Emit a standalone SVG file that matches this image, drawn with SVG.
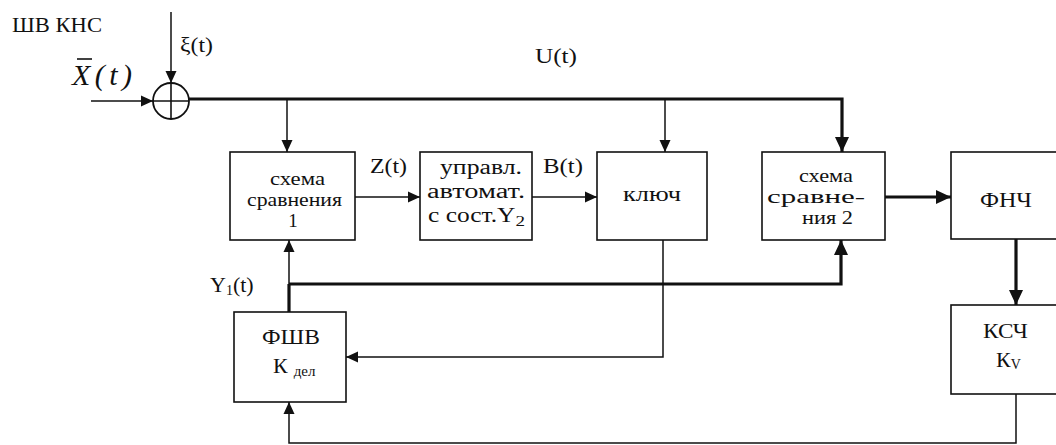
<svg xmlns="http://www.w3.org/2000/svg" width="1056" height="445" viewBox="0 0 1056 445">
<style>
text{font-family:"Liberation Serif","DejaVu Serif","Times New Roman",serif;fill:#111;font-size:22px}
.m{font-size:19px}
.c{font-size:20px}
.b{fill:#fff;stroke:#111;stroke-width:1.6}
.thin{fill:none;stroke:#111;stroke-width:1.5}
.thick{fill:none;stroke:#111;stroke-width:3.2}
</style>
<defs>
<marker id="a" markerUnits="userSpaceOnUse" markerWidth="12" markerHeight="12" refX="12" refY="6" orient="auto"><path d="M0,0.5 L12,6 L0,11.5 z" fill="#111"/></marker>
<marker id="A" markerUnits="userSpaceOnUse" markerWidth="15" markerHeight="14" refX="15" refY="7" orient="auto"><path d="M0,0 L15,7 L0,14 z" fill="#111"/></marker>
</defs>
<rect width="1056" height="445" fill="#fff"/>
<text x="12" y="32" textLength="90" lengthAdjust="spacingAndGlyphs">ШВ КНС</text>
<g id="input">
<text x="72" y="85" style="font-size:30px;font-style:italic" textLength="60" lengthAdjust="spacing">X(t)</text>
<line x1="77" y1="59" x2="92" y2="59" stroke="#111" stroke-width="1.6"/>
<text x="180" y="52" textLength="33" lengthAdjust="spacingAndGlyphs">ξ(t)</text>
</g>
<g id="sum">
<circle cx="171" cy="101" r="18" fill="#fff" stroke="#111" stroke-width="1.8"/>
<line x1="153" y1="101" x2="189" y2="101" stroke="#111" stroke-width="1.6"/>
<line x1="171" y1="83" x2="171" y2="119" stroke="#111" stroke-width="1.6"/>
</g>
<text x="535" y="63" textLength="42" lengthAdjust="spacingAndGlyphs">U(t)</text>
<g id="cmp1">
<rect class="b" x="230" y="152" width="125" height="88"/>
<text class="m" x="270" y="185" textLength="55" lengthAdjust="spacingAndGlyphs">схема</text>
<text class="m" x="247" y="206" textLength="95" lengthAdjust="spacingAndGlyphs">сравнения</text>
<text class="m" x="293" y="227" text-anchor="middle">1</text>
</g>
<g id="ctrl">
<rect class="b" x="420" y="152" width="112" height="88"/>
<text class="c" x="440" y="174" textLength="82" lengthAdjust="spacingAndGlyphs">управл.</text>
<text class="c" x="427" y="198" textLength="98" lengthAdjust="spacingAndGlyphs">автомат.</text>
<text class="c" x="428" y="222" textLength="97" lengthAdjust="spacingAndGlyphs">с сост.Y<tspan style="font-size:15px" dy="4">2</tspan></text>
</g>
<g id="key">
<rect class="b" x="597" y="152" width="110" height="88"/>
<text x="623" y="201" textLength="58" lengthAdjust="spacingAndGlyphs">ключ</text>
</g>
<g id="cmp2">
<rect class="b" x="762" y="152" width="123" height="88"/>
<text class="m" x="799" y="182" textLength="54" lengthAdjust="spacingAndGlyphs">схема</text>
<text class="m" x="767" y="203" textLength="98" lengthAdjust="spacingAndGlyphs">сравне-</text>
<text class="m" x="802" y="224" textLength="51" lengthAdjust="spacingAndGlyphs">ния 2</text>
</g>
<g id="lpf">
<rect class="b" x="951" y="152" width="110" height="87"/>
<text x="980" y="207" textLength="52" lengthAdjust="spacingAndGlyphs">ФНЧ</text>
</g>
<g id="ksch">
<rect class="b" x="951" y="305" width="110" height="89"/>
<text x="983" y="338" textLength="45" lengthAdjust="spacingAndGlyphs">КСЧ</text>
<text x="996" y="367">К<tspan style="font-size:14px" dy="2">V</tspan></text>
</g>
<g id="fshv">
<rect class="b" x="234" y="312" width="112" height="90"/>
<text x="262" y="344" textLength="58" lengthAdjust="spacingAndGlyphs">ФШВ</text>
<text x="273" y="373">К<tspan style="font-size:15px" dx="6" dy="3">дел</tspan></text>
</g>
<text x="210" y="292">Y<tspan style="font-size:14px" dy="3">1</tspan><tspan dy="-3">(t)</tspan></text>
<text x="370" y="173" textLength="37" lengthAdjust="spacingAndGlyphs">Z(t)</text>
<text x="543" y="173" textLength="40" lengthAdjust="spacingAndGlyphs">B(t)</text>
<g id="connectors">
<line class="thin" x1="171" y1="12" x2="171" y2="83" marker-end="url(#a)"/>
<line class="thin" x1="91" y1="101" x2="153" y2="101" marker-end="url(#a)"/>
<polyline class="thick" points="189,99 842,99 842,152" marker-end="url(#A)"/>
<line class="thin" x1="287" y1="99" x2="287" y2="152" marker-end="url(#a)"/>
<line class="thin" x1="665" y1="99" x2="665" y2="152" marker-end="url(#a)"/>
<line class="thin" x1="355" y1="197" x2="420" y2="197" marker-end="url(#a)"/>
<line class="thin" x1="532" y1="197" x2="597" y2="197" marker-end="url(#a)"/>
<line class="thick" x1="885" y1="197" x2="951" y2="197" marker-end="url(#A)"/>
<line class="thick" x1="1016" y1="239" x2="1016" y2="305" marker-end="url(#A)"/>
<polyline class="thin" points="1016,394 1016,443 289,443 289,402" marker-end="url(#a)"/>
<line class="thick" x1="289" y1="312" x2="289" y2="284"/>
<line class="thin" x1="289" y1="285" x2="289" y2="240" marker-end="url(#a)"/>
<polyline class="thick" points="289,284 841,284 841,240" marker-end="url(#A)"/>
<polyline class="thin" points="663,240 663,357 346,357" marker-end="url(#a)"/>
</g>
</svg>
